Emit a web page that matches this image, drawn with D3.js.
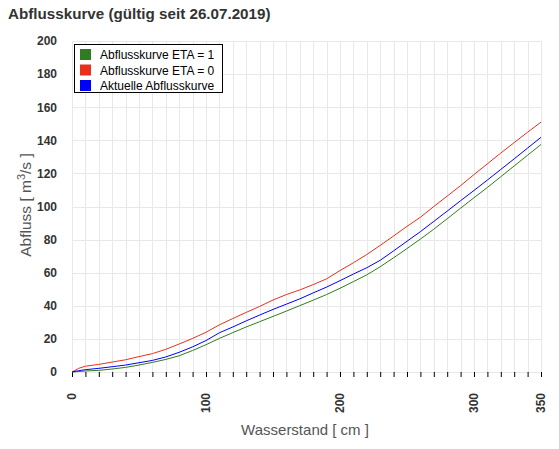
<!DOCTYPE html>
<html><head><meta charset="utf-8">
<script src="https://cdn.jsdelivr.net/npm/d3@7"></script>
<style>body{margin:0;background:#fff}svg{display:block}</style>
</head><body><svg id="c" width="559" height="449"></svg>
<script>
const stages = [0,5,10,20,30,40,50,60,70,80,90,100,110,120,130,140,150,160,170,180,190,200,210,220,230,240,250,260,270,280,290,300,310,320,330,340,350];
const flowEta1 = [0,0.3,0.6,1.0,1.8,2.8,4.2,5.8,7.6,9.8,13.0,16.5,20.3,23.8,27.2,30.4,33.6,36.8,40.1,43.4,46.8,50.6,54.6,58.7,63.6,69.0,74.6,80.3,86.3,92.6,99.0,105.3,111.5,118.0,124.5,131.0,137.5];
const flowEta0 = [0,2.2,3.5,4.6,6.0,7.4,9.3,11.1,13.7,16.9,20.3,24.0,28.5,32.3,36.0,39.6,43.5,46.8,49.6,52.8,56.3,61.3,66.0,71.0,76.5,82.2,88.0,93.5,100.0,106.3,112.6,119.3,125.8,132.3,138.6,144.9,151.0];
const flowCurrent = [0,0.8,1.4,2.2,3.2,4.2,5.6,7.0,9.1,11.9,15.2,19.0,23.7,27.2,30.9,34.4,37.8,41.0,44.2,47.8,51.3,55.2,59.2,63.0,67.5,73.2,79.0,84.8,91.0,97.2,103.5,109.7,116.0,122.4,128.8,135.3,141.8];
const seriesNames = ["Abflusskurve ETA = 1","Abflusskurve ETA = 0","Aktuelle Abflusskurve"];
const seriesColors = ["#2f7d1f","#e8301c","#0000ff"];
const xTickLabels = [0,100,200,300,350];
const yTickLabels = [0,20,40,60,80,100,120,140,160,180,200];

const svg = d3.select("#c");
const L=72, R=541, T=41, B=372;
const x = d3.scaleLinear().domain([0,350]).range([L,R]);
const y = d3.scaleLinear().domain([0,200]).range([B,T]);
const font = "'Liberation Sans', Arial, sans-serif";

svg.append("text").attr("x",8).attr("y",19).attr("font-family",font).attr("font-size",15.2)
  .attr("font-weight","bold").attr("fill","#333").text("Abflusskurve (gültig seit 26.07.2019)");

// grid
const g = svg.append("g");
g.selectAll("line.v").data(d3.range(0,351,10)).join("line")
  .attr("x1",d=>Math.round(x(d))+0.5).attr("x2",d=>Math.round(x(d))+0.5)
  .attr("y1",T).attr("y2",B).attr("stroke","#e8e8e8");
g.selectAll("line.h").data(yTickLabels).join("line")
  .attr("x1",L).attr("x2",R).attr("y1",d=>Math.round(y(d))+0.5).attr("y2",d=>Math.round(y(d))+0.5)
  .attr("stroke","#e8e8e8");

// y axis labels
const ya = svg.append("g").attr("transform",`translate(${L},0)`)
  .call(d3.axisLeft(y).tickValues(yTickLabels).tickSize(0).tickPadding(15));
ya.select(".domain").remove();
ya.selectAll("text").attr("font-family",font).attr("font-size",12).attr("font-weight","bold").attr("fill","#333");

// x axis ticks
const xa = svg.append("g").attr("transform",`translate(0,${B})`)
  .call(d3.axisBottom(x).tickValues(d3.range(0,351,10)).tickSize(5).tickFormat(""));
xa.select(".domain").remove();
xa.selectAll("line").attr("stroke","#000");
svg.append("g").selectAll("text").data(xTickLabels).join("text")
  .attr("transform",d=>`translate(${x(d)+4},${393}) rotate(-90)`)
  .attr("text-anchor","end").attr("font-family",font).attr("font-size",12)
  .attr("font-weight","bold").attr("fill","#333").text(d=>d);

// axis titles
svg.append("text").attr("transform","translate(31,205) rotate(-90)").attr("text-anchor","middle")
  .attr("font-family",font).attr("font-size",15.5).attr("fill","#555").attr("xml:space","preserve")
  .html("Abfluss [ m<tspan dy='-6' font-size='11'>3</tspan><tspan dy='6'>/s ]</tspan>");
svg.append("text").attr("x",305).attr("y",435).attr("text-anchor","middle")
  .attr("font-family",font).attr("font-size",15).attr("fill","#555").text("Wasserstand [ cm ]");

// lines
const allSeries = [flowEta1, flowEta0, flowCurrent];
const line = d3.line().x((d,i)=>x(stages[i])).y(d=>y(d));
allSeries.forEach((s,i)=>{
  svg.append("path").datum(s).attr("d",line).attr("fill","none")
    .attr("stroke",seriesColors[i]).attr("stroke-width",1);
});

// legend
const lg = svg.append("g");
lg.append("rect").attr("x",74.5).attr("y",44.5).attr("width",148).attr("height",48)
  .attr("fill","#fff").attr("stroke","#000");
seriesNames.forEach((n,i)=>{
  lg.append("rect").attr("x",80).attr("y",49+i*15.5).attr("width",11).attr("height",11).attr("fill",seriesColors[i]);
  lg.append("text").attr("x",100).attr("y",59+i*15.5).attr("font-family",font).attr("font-size",12)
    .attr("fill","#000").text(n);
});
</script></body></html>
